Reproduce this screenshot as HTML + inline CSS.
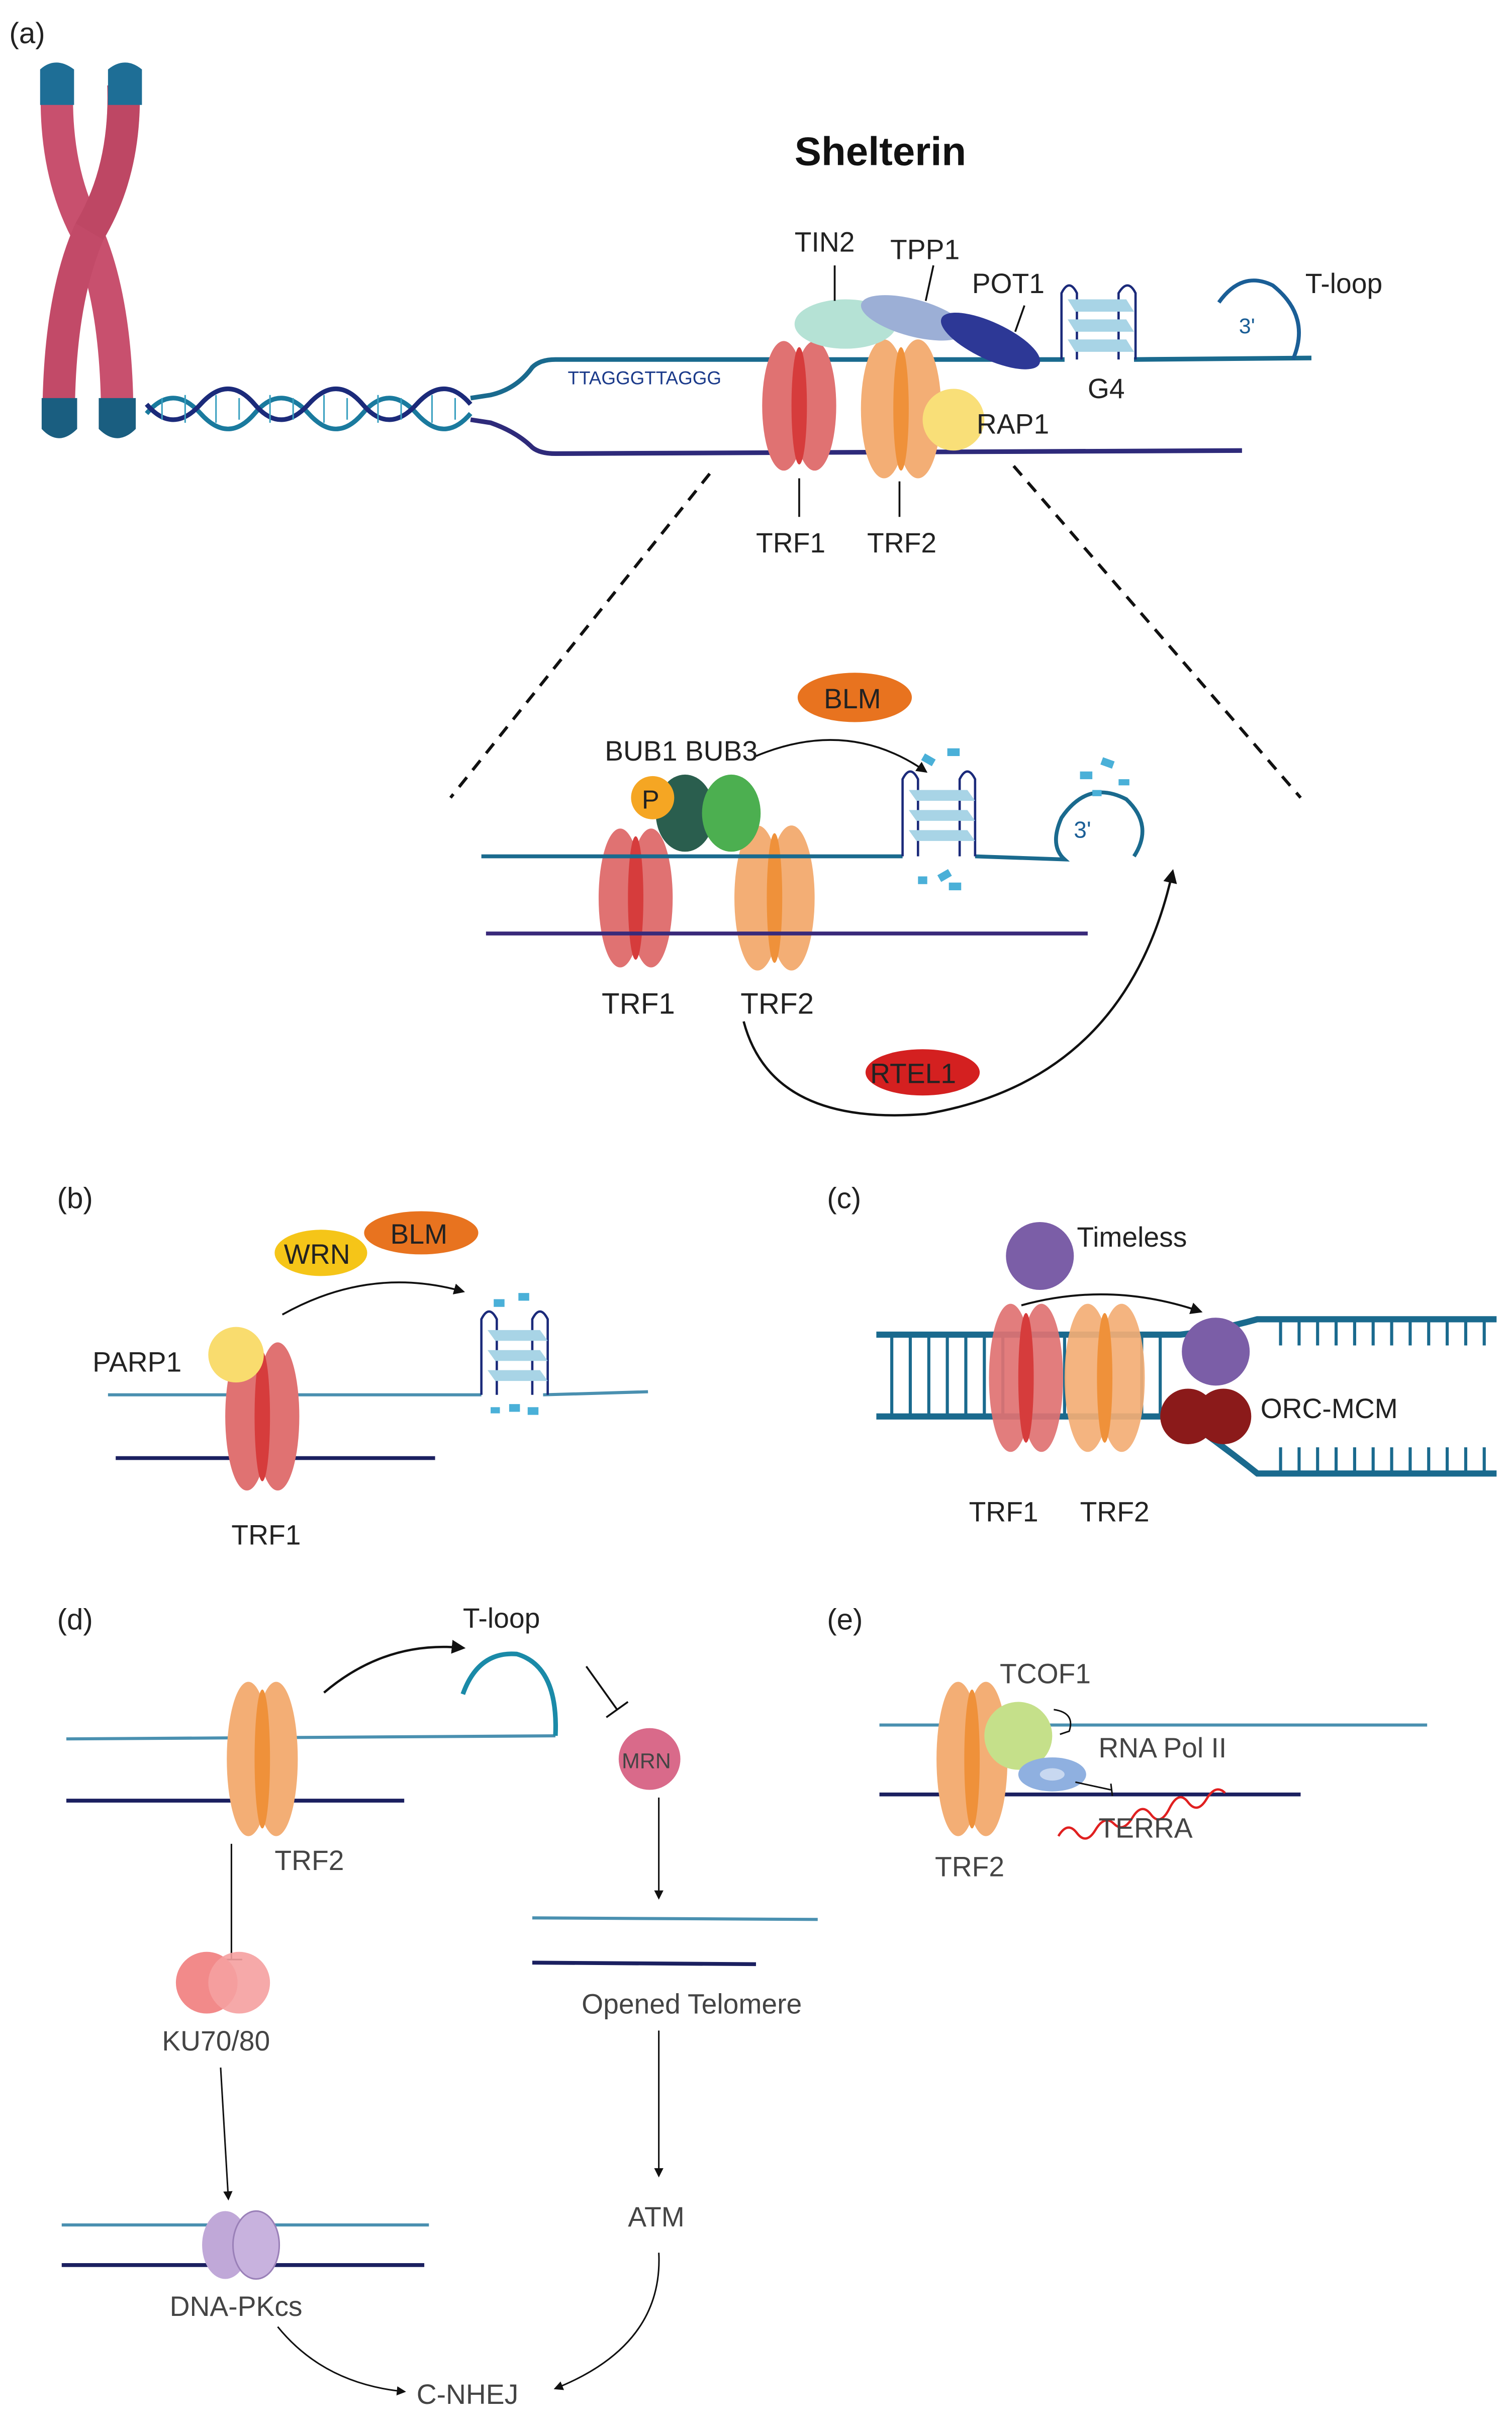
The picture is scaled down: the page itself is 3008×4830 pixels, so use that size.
<!DOCTYPE html>
<html><head><meta charset="utf-8"><style>
html,body{margin:0;padding:0;background:#fff}
svg{display:block}
text{font-family:"Liberation Sans",Arial,sans-serif;fill:#222}
</style></head><body>
<svg width="3008" height="4830" viewBox="0 0 980 1573.6" xmlns="http://www.w3.org/2000/svg">
<defs>
<marker id="ah" viewBox="0 0 10 10" refX="8" refY="5" markerWidth="6" markerHeight="6" orient="auto"><path d="M0,0 L10,5 L0,10 z" fill="#111"/></marker>
</defs>
<rect width="980" height="1574" fill="#fff"/>
<!-- (a) -->
<text x="6" y="28" font-size="19">(a)</text>
<!-- chromosome -->
<g fill="none" stroke-linecap="butt">
<path d="M37,55 Q35,110 56,150 Q76,195 76,272" stroke="#c8506e" stroke-width="21"/>
<path d="M80,55 Q82,110 58,150 Q38,195 38,272" stroke="#c24a68" stroke-width="21"/>
<path d="M80,55 Q82,110 58,150" stroke="#b9435f" stroke-width="21" opacity="0.5"/>
</g>
<path d="M26,45 Q36,36 48,45 L48,68 L26,68z" fill="#1e6e96"/>
<path d="M70,45 Q81,36 92,45 L92,68 L70,68z" fill="#1e6e96"/>
<path d="M27,258 L50,258 L50,278 Q38,290 27,278z" fill="#1a5e80"/>
<path d="M64,258 L88,258 L88,278 Q76,290 64,278z" fill="#1a5e80"/>
<!-- helix -->
<path d="M95,268 Q112,248 130,268 T165,268 T200,268 T235,268 T270,268 T305,268" stroke="#1a7a9e" stroke-width="3" fill="none"/>
<path d="M95,262 Q112,282 130,262 T165,262 T200,262 T235,262 T270,262 T305,262" stroke="#1b2a7a" stroke-width="3" fill="none"/>
<g stroke="#3aa0c0" stroke-width="1">
<path d="M105,258V272M120,256V274M140,256V274M155,258V272M175,256V274M190,258V272M210,256V274M225,258V272M245,256V274M260,258V272M280,256V274M295,258V272"/>
</g>
<path d="M305,258 L318,256 Q335,252 345,238 Q350,233 360,233 L690,233" stroke="#1a6a8e" stroke-width="3" fill="none"/>
<path d="M735,233 L850,232" stroke="#1a6a8e" stroke-width="3" fill="none"/>
<path d="M305,272 L318,274 Q335,280 345,290 Q350,294 360,294 L805,292" stroke="#2e2a7a" stroke-width="3" fill="none"/>
<text x="368" y="249" font-size="12" fill="#1b3a8a" style="fill:#1b3a8a">TTAGGGTTAGGG</text>
<!-- TRF1 -->
<ellipse cx="508" cy="263" rx="14" ry="42" fill="#e07272"/>
<ellipse cx="528" cy="263" rx="14" ry="42" fill="#e07272"/>
<ellipse cx="518" cy="263" rx="5" ry="38" fill="#d63c3c"/>
<!-- TRF2 -->
<ellipse cx="573" cy="265" rx="15" ry="45" fill="#f3ae75"/>
<ellipse cx="595" cy="265" rx="15" ry="45" fill="#f3ae75"/>
<ellipse cx="584" cy="265" rx="5" ry="40" fill="#ef913a"/>
<circle cx="618" cy="272" r="20" fill="#f9df78"/>
<ellipse cx="548" cy="210" rx="33" ry="16" fill="#b5e2d5"/>
<ellipse cx="592" cy="206" rx="35" ry="12" fill="#9cafd6" transform="rotate(15 592 206)"/>
<ellipse cx="642" cy="221" rx="35" ry="12" fill="#2d3896" transform="rotate(25 642 221)"/>
<!-- G4 -->
<g fill="none" stroke="#1b2a7a" stroke-width="1.5">
<path d="M688,233 L688,190 Q693,180 698,190 L698,233"/>
<path d="M725,233 L725,190 Q731,180 736,190 L736,233"/>
</g>
<g fill="#a8d4e6"><polygon points="692,194 730,194 735,202 697,202"/><polygon points="692,207 730,207 735,215 697,215"/><polygon points="692,220 730,220 735,228 697,228"/></g>
<!-- T-loop -->
<path d="M790,196 Q805,175 825,185 Q850,205 838,233" fill="none" stroke="#1a5e96" stroke-width="2.5"/>
<text x="803" y="216" font-size="14" style="fill:#1a5e96">3'</text>
<text x="515" y="107" font-size="26" font-weight="bold" style="fill:#111">Shelterin</text>
<g font-size="18"><text x="515" y="163">TIN2</text><text x="577" y="168">TPP1</text><text x="630" y="190">POT1</text><text x="846" y="190">T-loop</text><text x="705" y="258">G4</text><text x="633" y="281">RAP1</text><text x="490" y="358">TRF1</text><text x="562" y="358">TRF2</text></g>
<g stroke="#111" stroke-width="1.2"><line x1="541" y1="172" x2="541" y2="195"/><line x1="605" y1="172" x2="600" y2="195"/><line x1="664" y1="198" x2="658" y2="215"/><line x1="518" y1="310" x2="518" y2="335"/><line x1="583" y1="312" x2="583" y2="335"/></g>
<g stroke="#111" stroke-width="2" stroke-dasharray="8,6"><line x1="460" y1="307" x2="292" y2="517"/><line x1="657" y1="302" x2="843" y2="517"/></g>
<!-- zoom -->
<ellipse cx="554" cy="452" rx="37" ry="16" fill="#e8731f"/><text x="534" y="459" font-size="18">BLM</text>
<text x="392" y="493" font-size="18">BUB1 BUB3</text>
<ellipse cx="402" cy="582" rx="14" ry="45" fill="#e07272"/><ellipse cx="422" cy="582" rx="14" ry="45" fill="#e07272"/><ellipse cx="412" cy="582" rx="5" ry="40" fill="#d63c3c"/>
<ellipse cx="491" cy="582" rx="15" ry="47" fill="#f3ae75"/><ellipse cx="513" cy="582" rx="15" ry="47" fill="#f3ae75"/><ellipse cx="502" cy="582" rx="5" ry="42" fill="#ef913a"/>
<ellipse cx="444" cy="527" rx="19" ry="25" fill="#2a5e4e"/><ellipse cx="474" cy="527" rx="19" ry="25" fill="#4caf50"/>
<circle cx="423" cy="517" r="14" fill="#f5a623"/><text x="416" y="524" font-size="17">P</text>
<path d="M312,555 L585,555 M632,555 L690,557 Q680,548 688,530 Q705,505 730,518 Q748,535 735,555" fill="none" stroke="#1a6a8e" stroke-width="2.5"/>
<line x1="315" y1="605" x2="705" y2="605" stroke="#3a2a7a" stroke-width="2.5"/>
<g fill="none" stroke="#1b2a7a" stroke-width="1.5"><path d="M585,555 L585,505 Q590,495 595,505 L595,555"/><path d="M622,555 L622,505 Q627,495 632,505 L632,555"/></g>
<g fill="#a8d4e6"><polygon points="589,512 627,512 632,519 594,519"/><polygon points="589,525 627,525 632,532 594,532"/><polygon points="589,538 627,538 632,545 594,545"/></g>
<g fill="#4ab0d8"><rect x="598" y="490" width="8" height="5" transform="rotate(30 602 492)"/><rect x="614" y="485" width="8" height="5"/><rect x="608" y="565" width="8" height="5" transform="rotate(-30 612 567)"/><rect x="595" y="568" width="6" height="5"/><rect x="615" y="572" width="8" height="5"/><rect x="700" y="500" width="8" height="5"/><rect x="714" y="492" width="8" height="5" transform="rotate(20 718 494)"/><rect x="725" y="505" width="7" height="4"/><rect x="708" y="512" width="6" height="4"/></g>
<text x="696" y="543" font-size="15" style="fill:#1a5e96">3'</text>
<path d="M490,490 Q550,465 600,500" fill="none" stroke="#111" stroke-width="1.2" marker-end="url(#ah)"/>
<text x="390" y="657" font-size="19">TRF1</text><text x="480" y="657" font-size="19">TRF2</text>
<path d="M482,662 Q500,730 600,722 Q730,700 760,565" fill="none" stroke="#111" stroke-width="1.5" marker-end="url(#ah)"/>
<ellipse cx="598" cy="695" rx="37" ry="15" fill="#d42020"/><text x="564" y="702" font-size="18">RTEL1</text>
<!-- (b) -->
<text x="37" y="783" font-size="19">(b)</text>
<ellipse cx="273" cy="799" rx="37" ry="14" fill="#e8731f"/><text x="253" y="806" font-size="18">BLM</text>
<ellipse cx="208" cy="812" rx="30" ry="15" fill="#f5c518"/><text x="184" y="819" font-size="18">WRN</text>
<line x1="70" y1="904" x2="312" y2="904" stroke="#4a90b0" stroke-width="2"/><line x1="352" y1="904" x2="420" y2="902" stroke="#4a90b0" stroke-width="2"/>
<line x1="75" y1="945" x2="282" y2="945" stroke="#1b2060" stroke-width="2.5"/>
<ellipse cx="160" cy="918" rx="14" ry="48" fill="#e07272"/><ellipse cx="180" cy="918" rx="14" ry="48" fill="#e07272"/><ellipse cx="170" cy="918" rx="5" ry="42" fill="#d63c3c"/>
<circle cx="153" cy="878" r="18" fill="#f9dc6e"/>
<text x="60" y="889" font-size="18">PARP1</text><text x="150" y="1001" font-size="18">TRF1</text>
<path d="M183,852 Q240,820 300,837" fill="none" stroke="#111" stroke-width="1.2" marker-end="url(#ah)"/>
<g fill="none" stroke="#1b2a7a" stroke-width="1.5"><path d="M312,904 L312,855 Q317,845 322,855 L322,904"/><path d="M345,904 L345,855 Q350,845 355,855 L355,904"/></g>
<g fill="#a8d4e6"><polygon points="316,862 350,862 355,869 321,869"/><polygon points="316,875 350,875 355,882 321,882"/><polygon points="316,888 350,888 355,895 321,895"/></g>
<g fill="#4ab0d8"><rect x="320" y="842" width="7" height="5"/><rect x="336" y="838" width="7" height="5"/><rect x="330" y="910" width="7" height="5"/><rect x="342" y="912" width="7" height="5"/><rect x="318" y="912" width="6" height="4"/></g>
<!-- (c) -->
<text x="536" y="783" font-size="19">(c)</text>
<circle cx="674" cy="814" r="22" fill="#7b5ea7"/><text x="698" y="808" font-size="18">Timeless</text>
<g stroke="#1a6a8e" stroke-width="4" fill="none"><path d="M568,865 L765,865 Q790,862 815,855 L970,855"/><path d="M568,918 L765,918 Q790,935 815,955 L970,955"/></g>
<g stroke="#1a6a8e" stroke-width="2"><path d="M578,865V918M590,865V918M602,865V918M614,865V918M626,865V918M638,865V918M650,865V918M690,865V918M740,865V918M752,865V918"/>
<path d="M830,855V872M842,855V872M854,855V872M866,855V872M878,855V872M890,855V872M902,855V872M914,855V872M926,855V872M938,855V872M950,855V872M962,855V872"/>
<path d="M830,955V938M842,955V938M854,955V938M866,955V938M878,955V938M890,955V938M902,955V938M914,955V938M926,955V938M938,955V938M950,955V938M962,955V938"/></g>
<ellipse cx="655" cy="893" rx="14" ry="48" fill="#e07272" opacity="0.92"/><ellipse cx="675" cy="893" rx="14" ry="48" fill="#e07272" opacity="0.92"/><ellipse cx="665" cy="893" rx="5" ry="42" fill="#d63c3c"/>
<ellipse cx="705" cy="893" rx="15" ry="48" fill="#f3ae75" opacity="0.92"/><ellipse cx="727" cy="893" rx="15" ry="48" fill="#f3ae75" opacity="0.92"/><ellipse cx="716" cy="893" rx="5" ry="42" fill="#ef913a"/>
<circle cx="788" cy="876" r="22" fill="#7b5ea7"/>
<circle cx="770" cy="918" r="18" fill="#8b1a1a"/><circle cx="793" cy="918" r="18" fill="#8b1a1a"/>
<text x="817" y="919" font-size="18">ORC-MCM</text><text x="628" y="986" font-size="18">TRF1</text><text x="700" y="986" font-size="18">TRF2</text>
<path d="M662,846 Q720,830 778,850" fill="none" stroke="#111" stroke-width="1.3" marker-end="url(#ah)"/>
<!-- (d) -->
<text x="37" y="1056" font-size="19">(d)</text>
<line x1="43" y1="1127" x2="360" y2="1125" stroke="#4a90b0" stroke-width="2"/>
<line x1="43" y1="1167" x2="262" y2="1167" stroke="#1b2060" stroke-width="2.5"/>
<ellipse cx="161" cy="1140" rx="14" ry="50" fill="#f3ae75"/><ellipse cx="179" cy="1140" rx="14" ry="50" fill="#f3ae75"/><ellipse cx="170" cy="1140" rx="5" ry="45" fill="#ef913a"/>
<path d="M300,1098 Q310,1070 335,1072 Q362,1080 360,1125" fill="none" stroke="#1a8aa8" stroke-width="3"/>
<text x="300" y="1055" font-size="18">T-loop</text>
<path d="M210,1097 Q250,1063 300,1068" fill="none" stroke="#111" stroke-width="1.5" marker-end="url(#ah)"/>
<g stroke="#111" stroke-width="1.2"><line x1="380" y1="1080" x2="400" y2="1108"/><line x1="393" y1="1113" x2="407" y2="1103"/></g>
<circle cx="421" cy="1140" r="20" fill="#d96a8a"/><text x="403" y="1146" font-size="14" style="fill:#444">MRN</text>
<line x1="427" y1="1165" x2="427" y2="1230" stroke="#111" stroke-width="1" marker-end="url(#ah)"/>
<line x1="345" y1="1243" x2="530" y2="1244" stroke="#4a90b0" stroke-width="2"/><line x1="345" y1="1272" x2="490" y2="1273" stroke="#1b2060" stroke-width="2.5"/>
<text x="377" y="1305" font-size="18" style="fill:#444">Opened Telomere</text>
<line x1="427" y1="1316" x2="427" y2="1410" stroke="#111" stroke-width="1" marker-end="url(#ah)"/>
<text x="407" y="1443" font-size="18" style="fill:#444">ATM</text>
<path d="M427,1460 Q430,1520 360,1548" fill="none" stroke="#111" stroke-width="1" marker-end="url(#ah)"/>
<text x="178" y="1212" font-size="18" style="fill:#444">TRF2</text>
<g stroke="#111" stroke-width="1"><line x1="150" y1="1195" x2="150" y2="1270"/><line x1="143" y1="1270" x2="157" y2="1270"/></g>
<circle cx="134" cy="1285" r="20" fill="#f28a8a"/><circle cx="155" cy="1285" r="20" fill="#f5a0a0" opacity="0.9"/>
<text x="105" y="1329" font-size="18" style="fill:#444">KU70/80</text>
<line x1="143" y1="1340" x2="148" y2="1425" stroke="#111" stroke-width="1" marker-end="url(#ah)"/>
<line x1="40" y1="1442" x2="278" y2="1442" stroke="#4a90b0" stroke-width="2"/><line x1="40" y1="1468" x2="275" y2="1468" stroke="#1b2060" stroke-width="2.5"/>
<ellipse cx="146" cy="1455" rx="15" ry="22" fill="#c0a8d8"/><ellipse cx="166" cy="1455" rx="15" ry="22" fill="#c8b2de" stroke="#9a80b8"/>
<text x="110" y="1501" font-size="18" style="fill:#444">DNA-PKcs</text>
<path d="M180,1508 Q210,1545 262,1550" fill="none" stroke="#111" stroke-width="1" marker-end="url(#ah)"/>
<text x="270" y="1558" font-size="18" style="fill:#444">C-NHEJ</text>
<!-- (e) -->
<text x="536" y="1056" font-size="19">(e)</text>
<line x1="570" y1="1118" x2="925" y2="1118" stroke="#4a90b0" stroke-width="2"/>
<line x1="570" y1="1163" x2="843" y2="1163" stroke="#1b2060" stroke-width="2.5"/>
<ellipse cx="621" cy="1140" rx="14" ry="50" fill="#f3ae75"/><ellipse cx="639" cy="1140" rx="14" ry="50" fill="#f3ae75"/><ellipse cx="630" cy="1140" rx="5" ry="45" fill="#ef913a"/>
<circle cx="660" cy="1125" r="22" fill="#c5e08a"/>
<path d="M683,1108 Q697,1110 693,1122 L687,1124" fill="none" stroke="#111" stroke-width="1"/>
<ellipse cx="682" cy="1150" rx="22" ry="11" fill="#8fb0e0"/><ellipse cx="682" cy="1150" rx="8" ry="4" fill="#c8d8f0"/>
<path d="M697,1155 L720,1160" stroke="#111" stroke-width="1"/><path d="M720,1156 L721,1164" stroke="#111" stroke-width="1"/>
<path d="M686,1190 q6,-10 12,-2 t12,-2 t12,-4 t12,-4 t12,-2 t12,-4 t12,-4 t12,-2 t12,-4" fill="none" stroke="#e02020" stroke-width="1.5"/>
<text x="648" y="1091" font-size="18" style="fill:#444">TCOF1</text>
<text x="712" y="1139" font-size="18" style="fill:#444">RNA Pol II</text>
<text x="712" y="1191" font-size="18" style="fill:#444">TERRA</text>
<text x="606" y="1216" font-size="18" style="fill:#444">TRF2</text>
</svg>
</body></html>
